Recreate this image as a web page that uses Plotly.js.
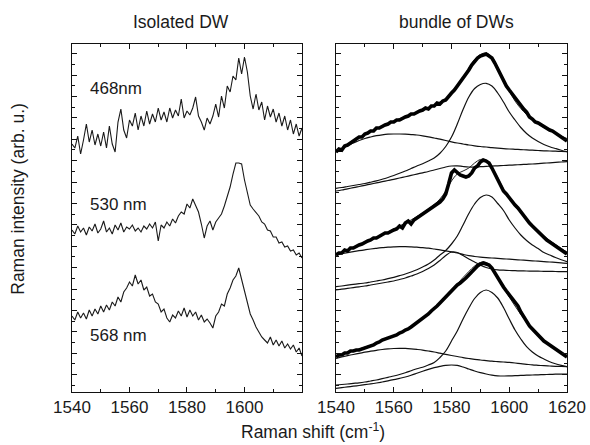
<!DOCTYPE html>
<html>
<head>
<meta charset="utf-8">
<script src="https://cdn.plot.ly/plotly-3.0.1.min.js"></script>
<style>html,body{margin:0;padding:0;background:#fff}#chart{width:590px;height:445px}</style>
</head>
<body>
<div id="chart"></div>
<script>
// Raman shift grids (cm^-1)
const shift1 = [1540,1541,1542,1543,1544,1545,1546,1547,1548,1549,1550,1551,1552,1553,1554,1555,1556,1557,1558,1559,1560,1561,1562,1563,1564,1565,1566,1567,1568,1569,1570,1571,1572,1573,1574,1575,1576,1577,1578,1579,1580,1581,1582,1583,1584,1585,1586,1587,1588,1589,1590,1591,1592,1593,1594,1595,1596,1597,1598,1599,1600,1601,1602,1603,1604,1605,1606,1607,1608,1609,1610,1611,1612,1613,1614,1615,1616,1617,1618,1619,1620];
const shift2 = [1540,1542,1544,1546,1548,1550,1552,1554,1556,1558,1560,1562,1564,1566,1568,1570,1572,1574,1576,1578,1580,1582,1584,1586,1588,1590,1592,1594,1596,1598,1600,1602,1604,1606,1608,1610,1612,1614,1616,1618,1620];

// Isolated DW spectra (offset, arb. u.)
const iso468 = [248,244,256,238,252,268,250,262,247,258,246,260,244,266,248,240,270,283,262,254,272,266,279,262,276,266,281,268,278,270,284,272,280,270,284,274,282,276,293,274,281,277,284,295,276,270,262,274,268,276,288,275,296,284,306,300,316,312,334,318,335,320,296,283,298,282,290,272,286,275,283,270,279,266,276,262,272,258,268,256,264];
const iso530 = [162,158,166,160,164,157,165,161,168,159,163,171,160,164,158,167,162,169,160,165,163,167,161,164,160,166,163,168,164,170,151,167,164,170,166,173,169,176,180,178,188,184,193,186,180,168,154,166,171,162,170,174,178,186,196,205,218,229,229,228,212,199,187,183,179,176,170,168,162,161,155,155,149,150,145,146,141,142,137,139,134];
const iso568 = [76,72,80,74,79,73,82,76,83,78,86,80,87,82,90,86,95,90,100,104,110,106,117,108,112,102,105,96,98,90,88,80,83,74,70,77,74,81,76,84,75,82,76,80,72,77,70,73,69,64,76,80,88,86,98,104,112,116,124,112,100,88,78,72,65,60,55,52,49,55,47,52,46,51,44,48,43,47,40,44,36];

// Bundle of DWs: measured spectra
const bun468Data = [240,243,242,246,247,249,251,252,255,255,258,259,261,261,264,264,266,267,268,270,270,272,272,274,275,276,278,278,280,281,282,284,283,286,286,289,288,291,292,296,299,302,306,309,313,318,322,327,331,334,336,337,338,336,334,329,323,317,312,306,302,298,294,290,287,283,280,275,273,270,269,267,265,264,262,261,259,256,255,253,251];
const bun530Data = [137,139,139,142,141,144,144,146,147,148,150,151,152,154,154,156,157,159,159,161,162,163,166,164,169,171,168,172,174,175,177,179,182,183,186,188,190,193,198,208,219,222,219,217,216,215,216,219,224,226,230,232,231,229,224,218,212,206,201,198,194,190,187,184,180,176,172,169,166,163,160,157,155,152,150,148,146,144,142,140,138];
const bun568Data = [35,37,37,39,39,41,41,42,42,43,44,45,46,47,49,50,52,53,54,55,56,57,59,60,62,63,65,67,69,71,73,76,78,81,83,86,89,92,96,99,102,104,107,109,111,114,117,120,124,126,128,129,128,127,124,119,114,110,105,101,97,94,90,86,80,75,71,66,63,60,56,54,51,49,47,45,43,41,39,37,35];

// Bundle of DWs: fit envelopes and components
const bun468Fit = [240,242.5,246.5,250.5,254,257.5,260.5,263.3,266,268.5,271,273.3,275.5,277.8,280,282.3,284.5,287,290,293.5,298.5,305,314,324,332.5,337.5,339,335,325,313,301,291,283.5,277.5,272.5,268,264.5,261.5,258.5,256,253.5];
const bun468G = [203.7,204.5,205.5,206.5,207.5,208.5,209.8,211.2,212.8,214.5,216.5,218.7,221,223.5,226,228.3,231,234,238.8,245.5,255,268,282.5,295,303.5,307.5,308.7,306,299,290,280,272,264.5,258.5,254,250.5,247.5,245.3,243.5,241.8,240.3];
const bun468Broad = [240,243.5,246.5,249,251.5,253.5,255,256.3,257.2,257.8,258,258,257.8,257.4,257,256.2,255.2,254,252.8,251.5,250.2,249,248,247,246.2,245.5,245,244.4,243.9,243.4,243,242.7,242.4,242.1,241.8,241.5,241.2,241,240.8,240.5,240.3];
const bun468Third = [201,202,203.2,204.3,205.5,206.7,207.9,209.1,210.3,211.5,212.7,214,215.3,216.6,217.9,219.2,220.5,222,223.5,225,226,226.2,225.5,225,225,225.3,225.6,225.9,226.2,226.5,226.8,227.1,227.4,227.7,228,228.4,228.8,229.2,229.6,230,230.3];

const bun530Fit = [137,140,142.5,145,147.5,150,152.5,155,157.5,160,163,166,169,172,175.5,179,183,187.5,193,201,211,218,221,224,229,232.5,232,225,214.5,203,193.5,186,179,172.5,166.5,161,156,151.5,147.5,143.5,140];
const bun530G = [105.3,106,106.8,107.6,108.3,109,110,111,112,113.3,114.7,116.3,118,120,122.3,125,128,132,137,141.5,148,156,167,178.5,188,194.5,197,195,188.5,181.5,172,164,157,151.5,147,143.5,139.5,137,134.5,132.3,130.3];
const bun530Broad = [137,138.2,139.3,140.3,141.3,142.2,143,143.7,144.3,144.8,145.1,145.3,145.3,145.1,144.8,144.3,143.8,143,142.2,141.2,140.1,139,137.6,136.3,135.5,134.9,134.4,134,133.6,133.2,132.8,132.4,132,131.6,131.2,130.8,130.4,130,129.6,129.2,128.7];
const bun530Third = [102,102.8,103.6,104.4,105.2,106,107,108,109,110,111,112.5,114,116,118,120.5,123.5,127,131.5,136.5,140,139.5,136.5,133,130,127,124.5,123,122.2,121.8,121.5,121.3,121.1,121,120.9,120.8,120.7,120.6,120.5,120.4,120.3];

const bun568Fit = [35.5,37.5,39.5,41.3,43,44.8,46.8,49,51.3,53.8,56.5,59.3,62.3,65.5,69,73,77.5,82.5,88,94.5,101.5,108,114.5,120.5,126,129.5,129.5,124.5,115,104.5,95,86,77.5,70,63,57,52,47.5,43.5,40,36.5];
const bun568G = [7,7.5,8,8.6,9.2,10,11,12,13.3,14.7,16,17.5,19.3,21.3,23.3,24.8,27,29.5,34.5,41,51,61,73,84,93.5,99.5,102,99.5,94,84.5,73,62,53,45.3,40,36,33,30.3,28.3,26.7,25.3];
const bun568Broad = [33.7,35,36.3,37.5,38.6,39.8,40.8,41.7,42.5,43.1,43.5,43.7,43.6,43.2,42.6,41.9,41,40,38.8,37.6,36.5,35.5,34.4,33.5,32.7,32,31.4,30.8,30.4,30,29.6,29,28.3,27.7,27.1,26.7,26.3,26,25.7,25.5,25.3];
const bun568Third = [3.7,4.4,5.1,5.8,6.5,7.3,8.1,9,10,11.1,12.3,13.6,15,16.7,18.7,20.7,22.6,24.3,25.6,26.6,27,26.6,25,23,21,19.3,18,16.9,16.2,16,16.1,16.3,16.6,16.8,17,17.2,17.4,17.6,17.8,17.9,18];

// Tick labels
const leftTicks = [1540,1560,1580,1600];
const leftMinor = [1550,1570,1590,1610];
const rightTicks = [1540,1560,1580,1600,1620];
const rightMinor = [1550,1570,1590,1610];

const FONT = '"Liberation Sans", Arial, Helvetica, sans-serif';
const TXT = '#1a1a1a';

const traces = [];
function rawLine(x, y, xa, ya) {
  traces.push({x: x, y: y, xaxis: xa, yaxis: ya, type: 'scatter', mode: 'lines',
    line: {color: '#1a1a1a', width: 1.1}, hoverinfo: 'skip'});
}
function compLine(y) {
  traces.push({x: shift2, y: y, xaxis: 'x2', yaxis: 'y2', type: 'scatter', mode: 'lines',
    line: {color: '#111', width: 1.2, shape: 'spline'}, hoverinfo: 'skip'});
}
function fitLine(y) {
  traces.push({x: shift2, y: y, xaxis: 'x2', yaxis: 'y2', type: 'scatter', mode: 'lines',
    line: {color: '#222', width: 1, shape: 'spline'}, hoverinfo: 'skip'});
}
function dataLine(y) {
  traces.push({x: shift1, y: y, xaxis: 'x2', yaxis: 'y2', type: 'scatter', mode: 'lines',
    line: {color: '#000', width: 3.6}, hoverinfo: 'skip'});
}

rawLine(shift1, iso468, 'x', 'y');
rawLine(shift1, iso530, 'x', 'y');
rawLine(shift1, iso568, 'x', 'y');

[bun468G, bun468Broad, bun468Third, bun530G, bun530Broad, bun530Third, bun568G, bun568Broad, bun568Third].forEach(compLine);
[bun468Fit, bun530Fit, bun568Fit].forEach(fitLine);
[bun468Data, bun530Data, bun568Data].forEach(dataLine);

function xAxis(domain, tickvals, minorvals, anchor) {
  return {domain: domain, range: [1540, 1620], anchor: anchor, tickmode: 'array', tickvals: tickvals,
    ticks: 'inside', ticklen: 5, tickwidth: 1, tickcolor: '#111', showline: true, linecolor: '#111',
    linewidth: 1, mirror: 'ticks', showgrid: false, zeroline: false, fixedrange: true,
    tickfont: {family: FONT, size: 17, color: TXT},
    minor: {tickmode: 'array', tickvals: minorvals, ticks: 'inside', ticklen: 3, tickwidth: 1, tickcolor: '#111', showgrid: false}};
}
function yAxis(anchor) {
  return {domain: [0.1191, 0.9011], range: [0, 348], anchor: anchor, showticklabels: false,
    tickmode: 'linear', tick0: 17.4, dtick: 21.4, ticks: 'inside', ticklen: 5, tickwidth: 1, tickcolor: '#111',
    showline: true, linecolor: '#111', linewidth: 1, mirror: 'ticks', showgrid: false, zeroline: false, fixedrange: true,
    minor: {tickmode: 'linear', tick0: 6.7, dtick: 10.7, ticks: 'inside', ticklen: 3, tickwidth: 1, tickcolor: '#111', showgrid: false}};
}

function ann(text, x, y, opts) {
  return Object.assign({text: text, x: x, y: y, xref: 'paper', yref: 'paper', showarrow: false,
    xanchor: 'center', yanchor: 'middle', font: {family: FONT, size: 17.5, color: TXT}}, opts || {});
}

const layout = {
  width: 590, height: 445,
  margin: {l: 0, r: 0, t: 0, b: 0},
  paper_bgcolor: '#fff', plot_bgcolor: '#fff',
  showlegend: false,
  xaxis: xAxis([0.12203, 0.51186], leftTicks, leftMinor, 'y'),
  yaxis: yAxis('x'),
  xaxis2: xAxis([0.56949, 0.96102], rightTicks, rightMinor, 'y2'),
  yaxis2: yAxis('x2'),
  annotations: [
    ann('Isolated DW', 0.3076, 0.9495),
    ann('bundle of DWs', 0.7729, 0.9495),
    ann('468nm', 0.1492, 0.800, {xanchor: 'left', font: {family: FONT, size: 17, color: TXT}}),
    ann('530 nm', 0.1492, 0.541, {xanchor: 'left', font: {family: FONT, size: 17, color: TXT}}),
    ann('568 nm', 0.1492, 0.245, {xanchor: 'left', font: {family: FONT, size: 17, color: TXT}}),
    ann('Raman shift (cm<sup>-1</sup>)', 0.5305, 0.031),
    ann('Raman intensity (arb. u.)', 0.031, 0.554, {textangle: -90})
  ]
};

Plotly.newPlot('chart', traces, layout, {staticPlot: true, displayModeBar: false});
</script>
</body>
</html>
